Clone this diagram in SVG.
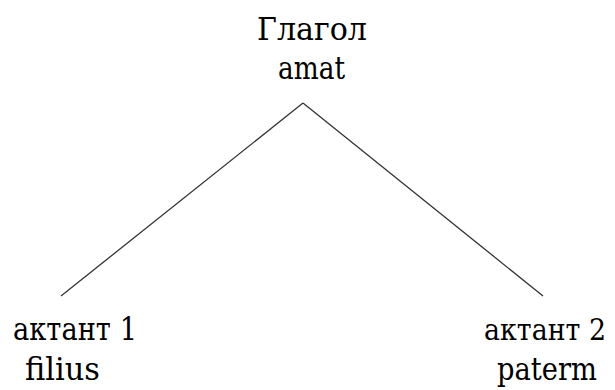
<svg xmlns="http://www.w3.org/2000/svg" width="615" height="390" viewBox="0 0 615 390">
<style>
.t{font-family:'DejaVu Serif',serif;font-size:31px;fill:#000}
.c{stroke:#333;stroke-width:1.3;fill:none}
</style>
<rect width="615" height="390" fill="#fff"/>
<g id="connectors">
<line class="c" x1="303" y1="103" x2="61" y2="296"/>
<line class="c" x1="303" y1="103" x2="543" y2="296"/>
</g>
<g id="verb" class="t"><text x="257" y="40" textLength="110" lengthAdjust="spacingAndGlyphs">Глагол</text><text x="278" y="79" textLength="67" lengthAdjust="spacingAndGlyphs">amat</text></g>
<g id="actant1" class="t"><text x="13" y="340" textLength="124" lengthAdjust="spacingAndGlyphs">актант 1</text><text x="25" y="380" textLength="75" lengthAdjust="spacingAndGlyphs">filius</text></g>
<g id="actant2" class="t"><text x="484" y="340" font-size="29" textLength="122" lengthAdjust="spacingAndGlyphs">актант 2</text><text x="497" y="380" textLength="100" lengthAdjust="spacingAndGlyphs">paterm</text></g>
</svg>
